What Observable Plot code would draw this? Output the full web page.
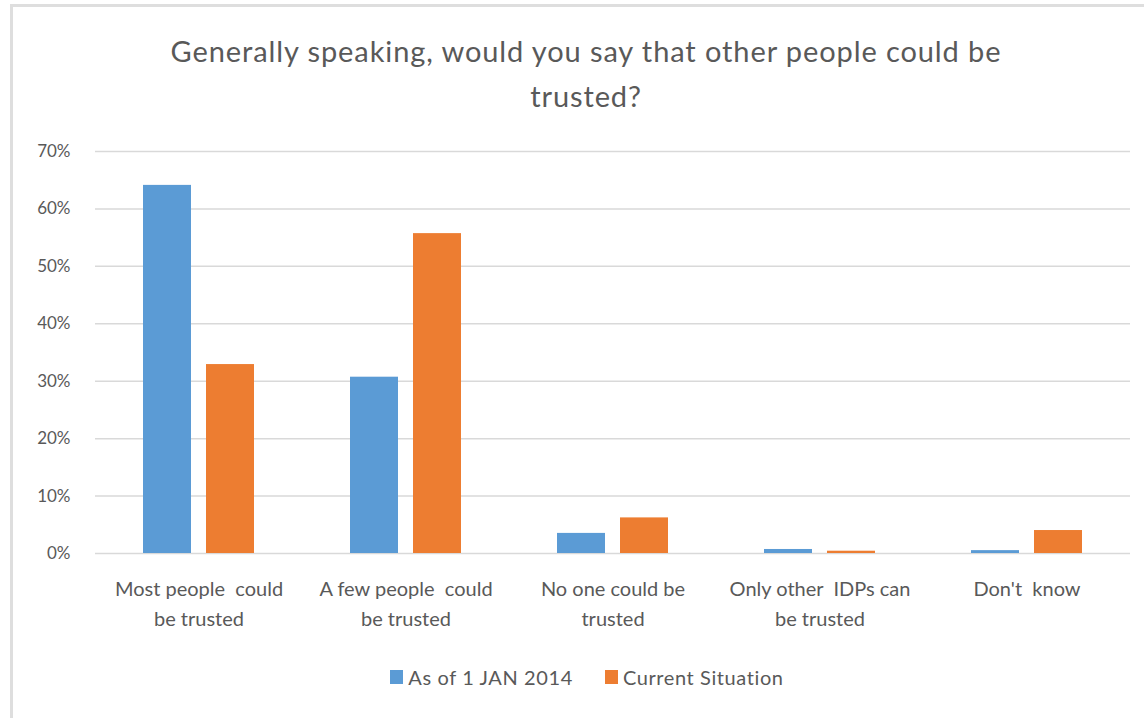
<!DOCTYPE html>
<html>
<head>
<meta charset="utf-8">
<script src="https://cdn.jsdelivr.net/npm/d3@7"></script>
<script src="https://cdn.jsdelivr.net/npm/@observablehq/plot@0.6"></script>
<style>
  html, body { margin: 0; padding: 0; background: #fff; overflow: hidden; }
  #wrap { position: relative; width: 1144px; height: 718px; font-family: Lato, "Open Sans", sans-serif; color: #595959; }
  #frame { position: absolute; left: 10px; top: 4px; width: 1140px; height: 720px; border: 3px solid #dedede; box-sizing: border-box; }
  #title { position: absolute; left: 0; width: 1172px; top: 28px; text-align: center; font-size: 29px; letter-spacing: 0.9px; line-height: 45px; color: #595959; }
  #chart { position: absolute; left: 0; top: 140px; }
  #legend { position: absolute; left: 0; width: 1174px; top: 665px; display: flex; justify-content: center; align-items: center; font-size: 20px; letter-spacing: 0.6px; color: #595959; }
  .item { display: flex; align-items: center; margin: 0 16px; }
  .sw { width: 13px; height: 14px; margin-right: 5px; }
</style>
</head>
<body>
<div id="wrap">
  <div id="frame"></div>
  <div id="title">Generally speaking, would you say that other people could be<br>trusted?</div>
  <div id="chart"></div>
  <div id="legend"></div>
</div>
<script>
const categories = ["Most people could be trusted", "A few people could be trusted", "No one could be trusted", "Only other IDPs can be trusted", "Don't know"];
const tickLabels = ["Most people  could\nbe trusted", "A few people  could\nbe trusted", "No one could be\ntrusted", "Only other  IDPs can\nbe trusted", "Don't  know"];
const series = ["As of 1 JAN 2014", "Current Situation"];
const asOf2014 = [0.641, 0.307, 0.035, 0.007, 0.005];
const current = [0.329, 0.557, 0.062, 0.004, 0.040];
const colors = ["#5B9BD5", "#ED7D31"];
const yTicks = [0, 0.1, 0.2, 0.3, 0.4, 0.5, 0.6, 0.7];

const data = [];
categories.forEach((c, i) => {
  data.push({category: c, series: series[0], value: asOf2014[i]});
  data.push({category: c, series: series[1], value: current[i]});
});
const labelOf = new Map(categories.map((c, i) => [c, tickLabels[i]]));

const chart = Plot.plot({
  width: 1144,
  height: 523,
  marginTop: 11,
  marginBottom: 110,
  marginLeft: 94,
  marginRight: 14,
  style: {fontFamily: "Lato, 'Open Sans', sans-serif", fontSize: "17px", color: "#595959", background: "transparent"},
  fx: {domain: categories, padding: 0, label: null},
  x: {domain: series, paddingInner: 0.24, paddingOuter: 0.76, axis: null},
  y: {domain: [0, 0.7], label: null},
  color: {domain: series, range: colors},
  marks: [
    Plot.gridY(yTicks, {stroke: "#d9d9d9", strokeOpacity: 1, strokeWidth: 1.5}),
    Plot.barY(data, {fx: "category", x: "series", y: "value", fill: "series"}),
    Plot.axisY(yTicks, {tickSize: 0, tickPadding: 25, tickFormat: d3.format(".0%"), label: null, fontSize: 17, letterSpacing: "0.8px"}),
    Plot.axisFx({anchor: "bottom", tickSize: 0, tickPadding: 21, tickFormat: d => labelOf.get(d), label: null, fontSize: 20, letterSpacing: "0.6px", lineHeight: 1.5})
  ]
});
document.getElementById("chart").appendChild(chart);

const legend = document.getElementById("legend");
series.forEach((s, i) => {
  const it = document.createElement("div");
  it.className = "item";
  const sw = document.createElement("div");
  sw.className = "sw";
  sw.style.background = colors[i];
  const t = document.createElement("span");
  t.textContent = s;
  it.appendChild(sw);
  it.appendChild(t);
  legend.appendChild(it);
});
</script>
</body>
</html>
